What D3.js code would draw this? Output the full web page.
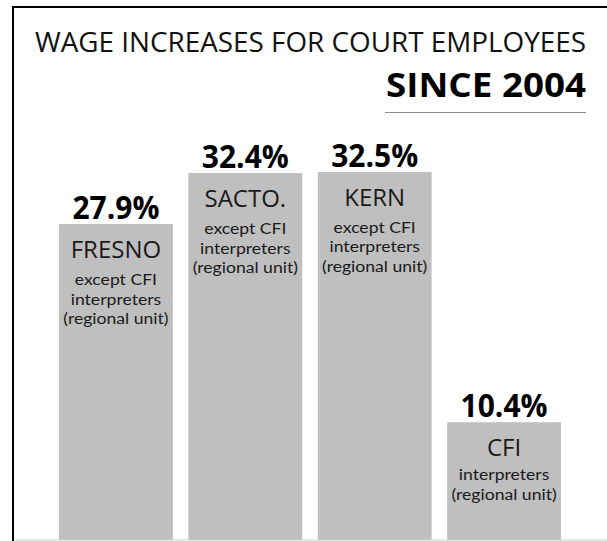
<html>
  <head>
    <script src="https://d3js.org/d3.v7.min.js"></script>
    <style>
      body { margin: 0; background: #fff; }
      svg { display: block; }
    </style>
  </head>
  <body>
    <svg></svg>
    <script>
      // data
      const categories = ["FRESNO", "SACTO.", "KERN", "CFI"];
      const values = [27.9, 32.4, 32.5, 10.4];
      const valueLabels = ["27.9%", "32.4%", "32.5%", "10.4%"];
      const subLines = [
        ["except CFI", "interpreters", "(regional unit)"],
        ["except CFI", "interpreters", "(regional unit)"],
        ["except CFI", "interpreters", "(regional unit)"],
        ["interpreters", "(regional unit)"]
      ];
      const titleLine1 = "WAGE INCREASES FOR COURT EMPLOYEES";
      const titleLine2 = "SINCE 2004";

      const width = 607, height = 541;
      const font = "'Open Sans', 'DejaVu Sans', sans-serif";
      const subFont = "Lato, 'Open Sans', sans-serif";

      const svg = d3.select("svg").attr("width", width).attr("height", height);

      // frame
      svg.append("line").attr("x1", 13).attr("x2", 13).attr("y1", 6).attr("y2", height)
        .attr("stroke", "#000").attr("stroke-width", 2);
      svg.append("line").attr("x1", 12).attr("x2", width).attr("y1", 7).attr("y2", 7)
        .attr("stroke", "#000").attr("stroke-width", 2);

      // titles
      svg.append("text").text(titleLine1)
        .attr("x", 35).attr("y", 52)
        .attr("textLength", 551).attr("lengthAdjust", "spacingAndGlyphs")
        .style("font-family", font).style("font-size", "27px").attr("fill", "#111");
      svg.append("text").text(titleLine2)
        .attr("x", 386).attr("y", 97)
        .attr("textLength", 200).attr("lengthAdjust", "spacingAndGlyphs")
        .style("font-family", font).style("font-size", "34px").style("font-weight", "bold").attr("fill", "#000");
      svg.append("line").attr("x1", 385).attr("x2", 586).attr("y1", 112.5).attr("y2", 112.5)
        .attr("stroke", "#8a8a8a").attr("stroke-width", 1);

      const x = d3.scaleBand().domain(categories).range([59, 561]).paddingInner(0.12).paddingOuter(0);
      const y = d3.scaleLinear().domain([0, 40]).range([540, 87]);

      const g = svg.append("g");
      const bars = g.selectAll("g.bar").data(categories).join("g").attr("class", "bar");

      bars.append("rect")
        .attr("x", d => x(d))
        .attr("width", x.bandwidth())
        .attr("y", (d, i) => y(values[i]))
        .attr("height", (d, i) => y(0) - y(values[i]))
        .attr("fill", "#bfbfbf");

      bars.append("text")
        .text((d, i) => valueLabels[i])
        .attr("x", d => x(d) + x.bandwidth() / 2)
        .attr("y", (d, i) => y(values[i]) - 5)
        .attr("text-anchor", "middle")
        .attr("textLength", 87).attr("lengthAdjust", "spacingAndGlyphs")
        .style("font-family", font).style("font-size", "33px").style("font-weight", "bold")
        .attr("fill", "#000");

      bars.append("text")
        .text(d => d)
        .attr("x", d => x(d) + x.bandwidth() / 2)
        .attr("y", (d, i) => y(values[i]) + 34)
        .attr("text-anchor", "middle")
        .style("font-family", font).style("font-size", "24px")
        .attr("fill", "#1a1a1a");

      // small lines inside the bars, widened a little to match the narrow original face
      const subOffsets = [61, 80.5, 100];
      bars.each(function(d, i) {
        d3.select(this).selectAll("text.sub").data(subLines[i]).join("text")
          .attr("class", "sub")
          .text(s => s)
          .attr("transform", (s, j) => "translate(" + (x(d) + x.bandwidth() / 2) + ","
            + (y(values[i]) + subOffsets[j] - (i === 3 ? 3 : 0)) + ") scale(1.1,1)")
          .attr("text-anchor", "middle")
          .style("font-family", subFont).style("font-size", "16px")
          .attr("fill", "#1a1a1a");
      });

      // baseline
      svg.append("line").attr("x1", 14).attr("x2", width).attr("y1", 540).attr("y2", 540)
        .attr("stroke", "#cfcfcf").attr("stroke-width", 1);
    </script>
  </body>
</html>
